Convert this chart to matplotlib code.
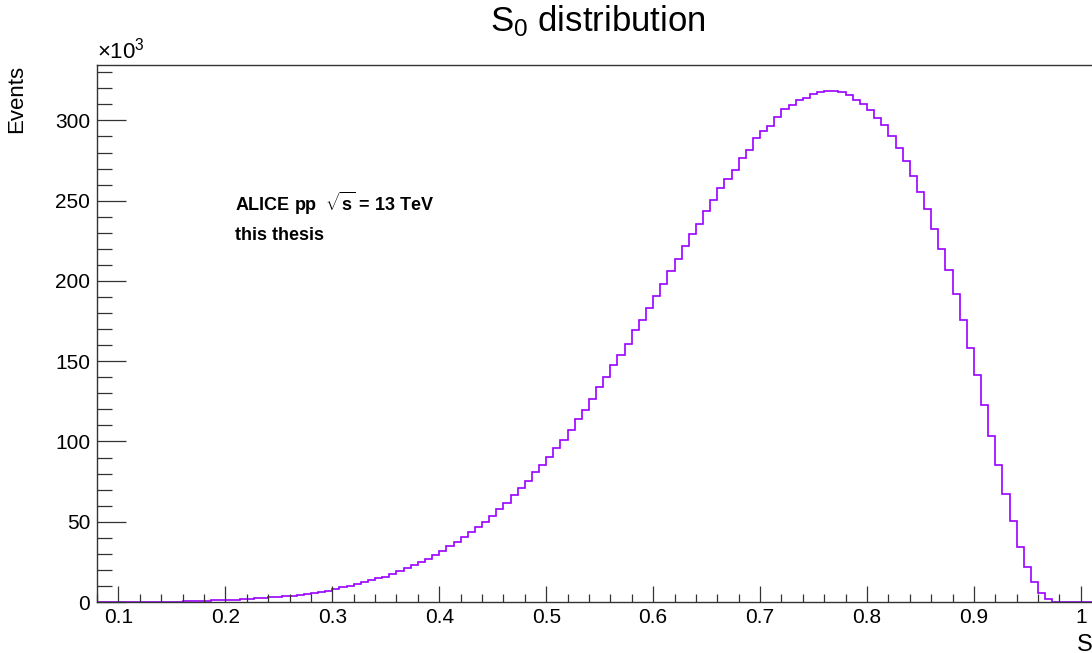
import numpy as np
import matplotlib
matplotlib.use('Agg')
import matplotlib.pyplot as plt
from matplotlib.ticker import MultipleLocator, FuncFormatter

plt.rcParams['font.family'] = ['Liberation Sans', 'DejaVu Sans']
plt.rcParams['mathtext.fontset'] = 'custom'
plt.rcParams['mathtext.rm'] = 'Liberation Sans'
plt.rcParams['mathtext.it'] = 'Liberation Sans:italic'
plt.rcParams['mathtext.bf'] = 'Liberation Sans:bold'

# S0 histogram, 150 bins on [0, 1]; first stored bin is number 12 (S0 = 0.08)
n_bins_total = 150
first_bin = 12
events_k = [
    0, 0, 0, 0.01, 0.02, 0.03, 0.05, 0.08, 0.11, 0.15, 0.2,
    0.3, 0.4, 0.5, 0.7, 0.9, 1.0, 1.1, 1.3, 1.5, 1.8, 2.0,
    2.3, 2.5, 2.9, 3.2, 3.5, 4.0, 4.3, 4.8, 5.5, 6.2, 7.1,
    8.3, 9.1, 10.2, 11.2, 12.2, 13.5, 14.7, 15.8, 17.4, 19.5, 21.0,
    23.0, 24.9, 26.9, 29.4, 31.9, 34.8, 37.5, 40.6, 43.6, 46.9, 49.8,
    53.7, 57.9, 61.8, 66.8, 70.8, 75.1, 80.7, 85.3, 90.4, 96.0, 101.2,
    107.3,
    113.7, 119.9, 126.5, 133.8, 140.2, 147.5, 153.9, 160.9, 169.3, 175.5,
    183.4, 190.8, 198.1, 206.2, 213.6, 222.0, 229.0, 235.6, 243.3, 250.6,
    257.6, 263.4, 269.4, 276.5, 281.7,
    289.0, 293.1, 296.8, 302.0, 306.8, 309.5, 312.4, 314.2, 316.3, 317.6,
    318.6, 318.2, 317.8, 315.7, 312.4, 310.1, 306.4, 301.8, 297.0, 290.0,
    282.7, 275.0, 265.5,
    255.3, 244.7, 232.2, 219.6, 207.0, 191.9, 175.4, 158.5, 141.5, 123.0,
    103.5, 85.5, 67.4, 50.6, 34.4, 21.8, 12.2, 5.4, 1.9,
    0.3, 0.05, 0, 0, 0, 0, 0, 0, 0, 0,
]

counts = np.array(events_k) * 1e3
edges = np.arange(first_bin, first_bin + len(counts) + 1) / n_bins_total

fig = plt.figure(figsize=(10.92, 6.53), dpi=100)
ax = fig.add_axes([0.0889, 0.0781, 0.9205, 0.8224])

ax.stairs(counts, edges, color='#9b00ff', lw=1.2, baseline=0)

ax.set_xlim(0.08, 1.02)
ax.set_ylim(0, 1.05 * counts.max())

for s in ['left', 'bottom', 'top', 'right']:
    ax.spines[s].set_color('#333333')
    ax.spines[s].set_linewidth(1.0)

ax.xaxis.set_major_locator(MultipleLocator(0.1))
ax.xaxis.set_minor_locator(MultipleLocator(0.02))
ax.yaxis.set_major_locator(MultipleLocator(50e3))
ax.yaxis.set_minor_locator(MultipleLocator(10e3))
ax.xaxis.set_major_formatter(FuncFormatter(lambda v, p: '%g' % round(v, 2)))
ax.yaxis.set_major_formatter(FuncFormatter(lambda v, p: '%d' % round(v / 1e3)))

ax.tick_params(which='both', direction='in', top=False, right=False,
               color='#333333', width=0.9, labelsize=15)
ax.tick_params(axis='y', which='major', length=21, pad=5)
ax.tick_params(axis='y', which='minor', length=10.5)
ax.tick_params(axis='x', which='major', length=11.5, pad=4)
ax.tick_params(axis='x', which='minor', length=6)

ax.text(0.0, 1.002, r'$\times$10$^{3}$', transform=ax.transAxes,
        ha='left', va='bottom', fontsize=16)

ax.set_ylabel('Events', fontsize=16, loc='top', labelpad=20)
ax.set_xlabel(r'S$_0$', fontsize=17, loc='right', labelpad=4)

fig.text(0.547, 0.968, r'S$_0$ distribution', ha='center', va='center', fontsize=25)

ax.text(235 / 1092, 1 - 203 / 653, r'ALICE pp  $\sqrt{\mathbf{s}}$ = 13 TeV',
        transform=fig.transFigure, fontsize=13, fontweight='bold',
        ha='left', va='center')
ax.text(235 / 1092, 1 - 236 / 653, 'this thesis',
        transform=fig.transFigure, fontsize=13, fontweight='bold',
        ha='left', va='center')

fig.savefig('out.png', dpi=100)
